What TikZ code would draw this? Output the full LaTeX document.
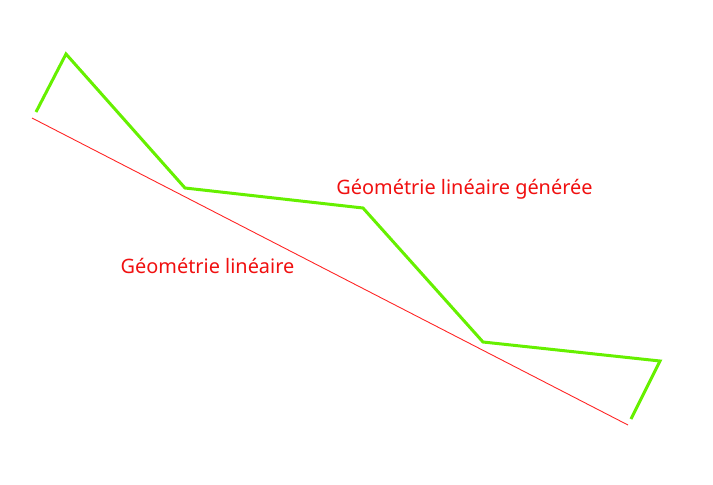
\documentclass[tikz,border=0pt]{standalone}
\usepackage{fontspec}
\setmainfont{Noto Sans}
\definecolor{lime}{HTML}{66F000}
\definecolor{lblred}{HTML}{F01010}
\tikzset{
  gen/.style={draw=lime, line width=3pt, line join=miter},
  base/.style={draw=red!85, line width=0.9pt},
  lbl/.style={text=lblred, font=\fontsize{19.9}{22}\selectfont, inner sep=0pt}
}
\begin{document}
\begin{tikzpicture}[x=1pt,y=-1pt]
\useasboundingbox (0,0) rectangle (713,485);
\coordinate (a) at (32,118);
\coordinate (b) at (628,425);
\coordinate (p1) at (36,112);
\coordinate (p2) at (66,54);
\coordinate (p3) at (185,188);
\coordinate (p4) at (363,208);
\coordinate (p5) at (483,342);
\coordinate (p6) at (660,361);
\coordinate (p7) at (631,419);
\draw[base] (a) -- (b);
\draw[gen] (p1) -- (p2) -- (p3) -- (p4) -- (p5) -- (p6) -- (p7);
\node[lbl] (t1) at (464.5,189) {Géométrie linéaire générée};
\node[lbl] (t2) at (207.5,266) {Géométrie linéaire};
\end{tikzpicture}
\end{document}
